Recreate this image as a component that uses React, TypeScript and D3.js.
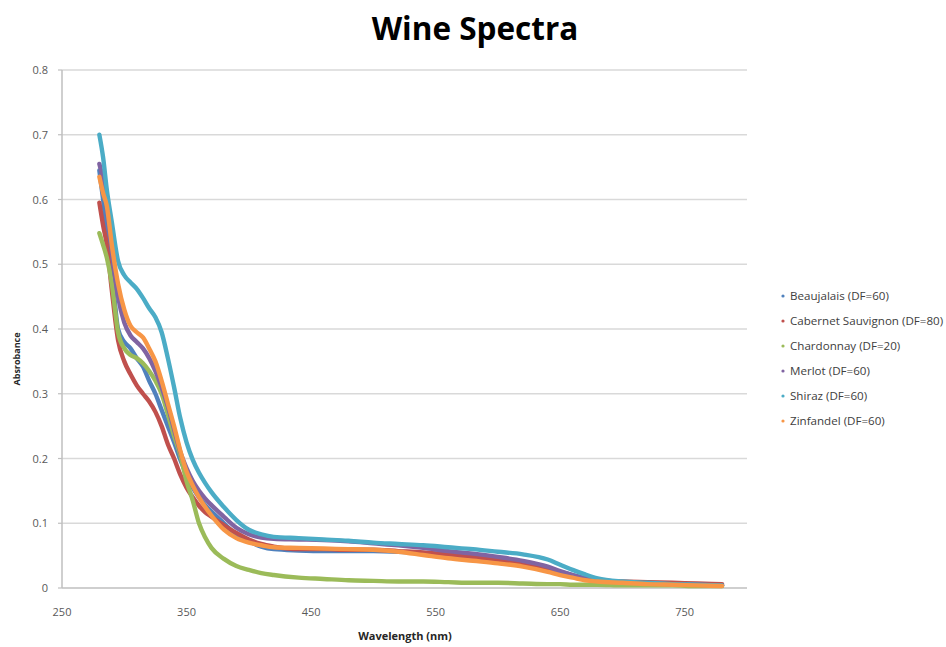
import React from "react";
import * as d3 from "d3";

// Wavelengths (nm) at which each spectrum is sampled
const wavelengths = [
  280, 283, 286, 290, 295, 300, 305, 310, 315, 320, 325, 330, 335, 340, 345, 350,
  355, 360, 365, 370, 380, 390, 400, 410, 420, 440, 460, 480, 500, 520, 540, 560,
  580, 600, 620, 640, 650, 660, 670, 680, 700, 720, 740, 760, 780,
];

const beaujalais = [
  0.645, 0.6, 0.55, 0.49, 0.4, 0.38, 0.37, 0.355, 0.342, 0.32, 0.3, 0.275, 0.25, 0.225, 0.198, 0.175,
  0.155, 0.14, 0.128, 0.118, 0.1, 0.082, 0.072, 0.064, 0.06, 0.058, 0.057, 0.057, 0.057, 0.056, 0.054, 0.051,
  0.048, 0.044, 0.038, 0.03, 0.025, 0.02, 0.015, 0.012, 0.009, 0.007, 0.006, 0.005, 0.004,
];
const cabernet = [
  0.595, 0.56, 0.53, 0.46, 0.383, 0.35, 0.33, 0.313, 0.3, 0.288, 0.272, 0.25, 0.222, 0.2, 0.175, 0.155,
  0.14, 0.127, 0.117, 0.11, 0.097, 0.085, 0.075, 0.068, 0.064, 0.06, 0.06, 0.059, 0.059, 0.057, 0.055, 0.052,
  0.048, 0.043, 0.036, 0.028, 0.023, 0.018, 0.014, 0.012, 0.01, 0.009, 0.008, 0.007, 0.006,
];
const chardonnay = [
  0.548, 0.53, 0.51, 0.47, 0.395, 0.37, 0.36, 0.355, 0.347, 0.335, 0.32, 0.3, 0.268, 0.235, 0.205, 0.165,
  0.135, 0.1, 0.078, 0.062, 0.045, 0.034, 0.028, 0.023, 0.02, 0.016, 0.014, 0.012, 0.011, 0.01, 0.01, 0.009,
  0.008, 0.008, 0.007, 0.006, 0.006, 0.005, 0.005, 0.005, 0.004, 0.004, 0.004, 0.003, 0.003,
];
const merlot = [
  0.655, 0.63, 0.59, 0.52, 0.45, 0.41, 0.39, 0.38, 0.37, 0.355, 0.335, 0.31, 0.28, 0.245, 0.21, 0.185,
  0.165, 0.15, 0.138, 0.128, 0.11, 0.093, 0.083, 0.078, 0.076, 0.075, 0.074, 0.072, 0.069, 0.066, 0.062, 0.057,
  0.053, 0.048, 0.042, 0.033, 0.026, 0.02, 0.015, 0.012, 0.009, 0.007, 0.006, 0.005, 0.004,
];
const shiraz = [
  0.7, 0.665, 0.615, 0.565, 0.505, 0.483, 0.472, 0.462, 0.448, 0.432, 0.418, 0.395, 0.355, 0.31, 0.262, 0.225,
  0.198, 0.178, 0.162, 0.148, 0.125, 0.105, 0.09, 0.083, 0.079, 0.077, 0.075, 0.073, 0.07, 0.068, 0.066, 0.063,
  0.06, 0.056, 0.052, 0.044, 0.036, 0.028, 0.021, 0.015, 0.01, 0.008, 0.006, 0.005, 0.004,
];
const zinfandel = [
  0.635, 0.61, 0.59, 0.53, 0.47, 0.43, 0.405, 0.395, 0.387, 0.37, 0.35, 0.32, 0.285, 0.25, 0.212, 0.18,
  0.158, 0.14, 0.125, 0.112, 0.09, 0.077, 0.07, 0.066, 0.063, 0.062, 0.061, 0.06, 0.059, 0.056, 0.051, 0.046,
  0.042, 0.038, 0.033, 0.025, 0.02, 0.016, 0.012, 0.01, 0.008, 0.006, 0.005, 0.004, 0.003,
];

const seriesNames = [
  "Beaujalais (DF=60)",
  "Cabernet Sauvignon (DF=80)",
  "Chardonnay (DF=20)",
  "Merlot (DF=60)",
  "Shiraz (DF=60)",
  "Zinfandel (DF=60)",
];
const seriesValues = [beaujalais, cabernet, chardonnay, merlot, shiraz, zinfandel];
const seriesColors = ["#4f81bd", "#c0504d", "#9bbb59", "#8064a2", "#4bacc6", "#f79646"];

const xTicks = [250, 350, 450, 550, 650, 750];
const yTicks = [0, 0.1, 0.2, 0.3, 0.4, 0.5, 0.6, 0.7, 0.8];

const W = 946;
const H = 647;
const plot = { left: 62, right: 747, top: 70, bottom: 588 };
const font = "'Open Sans', 'Liberation Sans', sans-serif";

export default function App() {
  const x = d3.scaleLinear().domain([250, 800]).range([plot.left, plot.right]);
  const y = d3.scaleLinear().domain([0, 0.8]).range([plot.bottom, plot.top]);

  const line = d3
    .line<number>()
    .x((_, i) => x(wavelengths[i]))
    .y((v) => y(v))
    .curve(d3.curveMonotoneX);

  return (
    <svg
      width={W}
      height={H}
      style={{ position: "absolute", left: 0, top: 0, background: "#fff" }}
      fontFamily={font}
    >
      <rect width={W} height={H} fill="#fff" />
      <text x={475} y={40} textAnchor="middle" fontSize={31.5} fontWeight="bold" fill="#000">
        Wine Spectra
      </text>

      {/* horizontal gridlines and y ticks */}
      {yTicks.map((t) => (
        <g key={t}>
          {t > 0 && (
            <line x1={plot.left} x2={plot.right} y1={y(t)} y2={y(t)} stroke="#d9d9d9" strokeWidth={1.5} />
          )}
          <line x1={plot.left - 4} x2={plot.left} y1={y(t)} y2={y(t)} stroke="#bfbfbf" strokeWidth={1.2} />
          <text x={48} y={y(t) + 4} textAnchor="end" fontSize={11} fill="#595959">
            {t === 0 ? "0" : d3.format(".1f")(t)}
          </text>
        </g>
      ))}

      {/* axes */}
      <line x1={plot.left} x2={plot.left} y1={plot.top} y2={plot.bottom} stroke="#bfbfbf" strokeWidth={1.5} />
      <line x1={plot.left} x2={plot.right} y1={plot.bottom} y2={plot.bottom} stroke="#bfbfbf" strokeWidth={1.5} />

      {xTicks.map((t) => (
        <text key={t} x={x(t)} y={616} textAnchor="middle" fontSize={11} fill="#595959">
          {t}
        </text>
      ))}

      <text x={405} y={640} textAnchor="middle" fontSize={11} fontWeight="bold" fill="#262626">
        Wavelength (nm)
      </text>
      <text
        transform="translate(20, 359) rotate(-90)"
        textAnchor="middle"
        fontSize={9}
        fontWeight="bold"
        fill="#262626"
      >
        Absrobance
      </text>

      {/* spectra */}
      {seriesValues.map((vals, si) => (
        <path
          key={seriesNames[si]}
          d={line(vals) ?? ""}
          fill="none"
          stroke={seriesColors[si]}
          strokeWidth={4.4}
          strokeLinejoin="round"
          strokeLinecap="round"
        />
      ))}

      {/* legend */}
      {seriesNames.map((name, i) => {
        const ly = 296 + i * 25;
        return (
          <g key={name}>
            <circle cx={783} cy={ly} r={1.6} fill={seriesColors[i]} />
            <text x={790} y={ly + 4} fontSize={11.6} fill="#404040">
              {name}
            </text>
          </g>
        );
      })}
    </svg>
  );
}
